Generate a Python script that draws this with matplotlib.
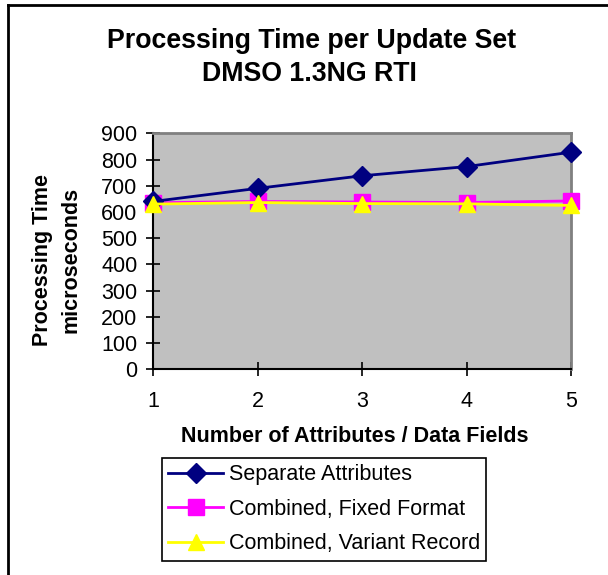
import matplotlib
matplotlib.use("Agg")
import matplotlib.pyplot as plt
from matplotlib.lines import Line2D

plt.rcParams['font.family'] = ['Liberation Sans', 'DejaVu Sans']

x_vals = [1, 2, 3, 4, 5]
separate = [640, 690, 738, 773, 828]
fixed = [635, 640, 638, 636, 642]
variant = [630, 636, 632, 631, 625]
series_labels = ["Separate Attributes", "Combined, Fixed Format", "Combined, Variant Record"]
y_ticks = [0, 100, 200, 300, 400, 500, 600, 700, 800, 900]

W, H = 608, 575
fig = plt.figure(figsize=(W / 100, H / 100), dpi=100)
ax = fig.add_axes([153 / W, 1 - 369.3 / H, (571 - 153) / W, (369.3 - 133.3) / H])
ax.set_facecolor('#C0C0C0')

ax.plot(x_vals, separate, color='#000080', lw=2, marker='D', ms=10.5,
        mfc='#000080', mec='#000080', clip_on=False, zorder=5, label=series_labels[0])
ax.plot(x_vals, fixed, color='#FF00FF', lw=2, marker='s', ms=11,
        mfc='#FF00FF', mec='#FF00FF', clip_on=False, zorder=4, label=series_labels[1])
ax.plot(x_vals, variant, color='#FFFF00', lw=2, marker='^', ms=12,
        mfc='#FFFF00', mec='#FFFF00', clip_on=False, zorder=6, label=series_labels[2])

ax.set_xlim(1, 5)
ax.set_ylim(0, 900)
ax.set_xticks(x_vals)
ax.set_yticks(y_ticks)
ax.tick_params(axis='both', direction='inout', length=9.5, width=1.2, labelsize=15.5,
               colors='black')
ax.tick_params(axis='y', pad=6.5)
ax.tick_params(axis='x', pad=11)

for s in ['top', 'right']:
    ax.spines[s].set_color('#808080')
    ax.spines[s].set_linewidth(2)
for s in ['left', 'bottom']:
    ax.spines[s].set_color('#000000')
    ax.spines[s].set_linewidth(1.5)

fig.text(312 / W, 1 - 41 / H, "Processing Time per Update Set", ha='center', va='center',
         fontsize=19.3, fontweight='bold')
fig.text(309 / W, 1 - 74 / H, "DMSO 1.3NG RTI", ha='center', va='center',
         fontsize=19.3, fontweight='bold')

fig.text(43 / W, 1 - 260 / H, "Processing Time", rotation=90, ha='center', va='center',
         fontsize=15.5, fontweight='bold')
fig.text(71 / W, 1 - 260 / H, "microseconds", rotation=90, ha='center', va='center',
         fontsize=15.5, fontweight='bold')
fig.text(355 / W, 1 - 436 / H, "Number of Attributes / Data Fields", ha='center', va='center',
         fontsize=15.5, fontweight='bold')

leg = fig.legend(loc='upper left', bbox_to_anchor=(162 / W, 1 - 458 / H),
                 fontsize=15.5, frameon=True, fancybox=False, handlelength=2.55,
                 handletextpad=0.25, labelspacing=0.62, borderpad=0.3, borderaxespad=0,
                 edgecolor='#000000', framealpha=1)
leg.get_frame().set_linewidth(1.2)

fig.add_artist(Line2D([8 / W, 1], [1 - 4.5 / H, 1 - 4.5 / H], color='black', lw=2,
                      transform=fig.transFigure))
fig.add_artist(Line2D([8 / W, 8 / W], [0, 1 - 4.5 / H], color='black', lw=2,
                      transform=fig.transFigure))

fig.savefig("out.png", dpi=100)
